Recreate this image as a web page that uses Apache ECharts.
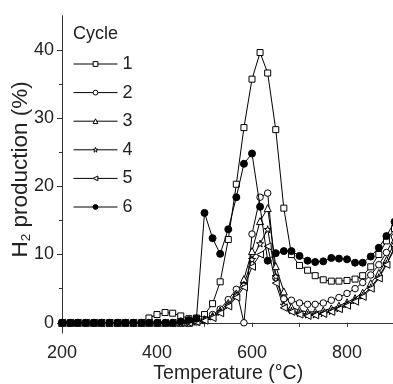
<!DOCTYPE html>
<html>
<head>
<meta charset="utf-8">
<script src="https://cdn.jsdelivr.net/npm/echarts@6/dist/echarts.min.js"></script>
<style>
  html, body { margin: 0; padding: 0; background: #fff; }
  #chart { width: 393px; height: 384px; }
</style>
</head>
<body>
<div id="chart"></div>
<script>
// temperature grid (°C)
var temps = [200, 217, 233, 250, 267, 283, 300, 317, 333, 350, 367, 383, 400, 417, 433,
  450, 467, 483, 500, 517, 533, 550, 567, 583, 600, 617, 633, 650, 667, 683, 700,
  717, 733, 750, 767, 783, 800, 817, 833, 850, 867, 883, 900];

// H2 production (%) per cycle
var cycle1 = [0, 0, 0, 0, 0, 0, 0, 0, 0, 0, 0, 0.7, 1.2, 1.5, 1.4, 1.0, 0.6, 0.7, 1.2, 2.8,
  6.0, 12.2, 20.3, 28.6, 35.7, 39.6, 36.6, 28.3, 16.8, 10.0, 8.4, 7.7, 6.9, 6.3, 6.1,
  6.1, 6.2, 6.4, 6.9, 8.2, 10.0, 12.0, 13.8];
var cycle2 = [0, 0, 0, 0, 0, 0, 0, 0, 0, 0, 0, 0, 0, 0, 0, 0, 0, 0.2, 0.5, 1.2, 2.0, 3.4,
  4.9, 0.0, 13.0, 18.4, 19.0, 6.6, 3.5, 3.3, 2.9, 2.7, 2.7, 2.9, 3.3, 3.7, 4.3, 5.0,
  5.9, 7.0, 8.5, 10.3, 12.6];
var cycle3 = [0, 0, 0, 0, 0, 0, 0, 0, 0, 0, 0, 0, 0, 0, 0, 0, 0, 0.2, 0.5, 1.0, 1.8, 2.9,
  4.3, 6.4, 10.5, 14.9, 16.8, 8.3, 4.6, 2.3, 1.8, 1.6, 1.6, 1.8, 2.1, 2.5, 3.0, 3.6,
  4.4, 5.8, 7.3, 9.2, 11.7];
var cycle4 = [0, 0, 0, 0, 0, 0, 0, 0, 0, 0, 0, 0, 0, 0, 0, 0, 0, 0.2, 0.4, 0.9, 1.6, 2.6,
  4.0, 5.6, 9.3, 11.6, 13.7, 6.8, 2.6, 1.8, 1.4, 1.2, 1.2, 1.4, 1.7, 2.1, 2.7, 3.3,
  4.0, 5.2, 6.7, 8.7, 11.0];
var cycle5 = [0, 0, 0, 0, 0, 0, 0, 0, 0, 0, 0, 0, 0, 0, 0, 0, 0, 0.1, 0.3, 0.7, 1.4, 2.4,
  3.7, 5.2, 8.2, 10.0, 11.2, 5.8, 2.2, 1.6, 1.2, 1.0, 1.1, 1.3, 1.6, 2.0, 2.5, 3.1,
  3.8, 5.0, 6.5, 8.5, 10.8];
var cycle6 = [0, 0, 0, 0, 0, 0, 0, 0, 0, 0, 0, 0, 0, 0, 0, 0.2, 0.4, 0.6, 16.1, 12.4,
  10.1, 13.7, 18.4, 23.3, 24.8, 17.0, 9.1, 10.2, 10.5, 10.5, 9.8, 9.1, 8.9, 9.0, 9.5,
  9.4, 9.3, 8.8, 8.8, 9.7, 11.0, 12.7, 14.8];

var cycleNames = ['1', '2', '3', '4', '5', '6'];
var yTicks = [0, 10, 20, 30, 40];
var yMinorTicks = [5, 15, 25, 35];

var FONT = 'Liberation Sans, Arial, sans-serif';
var STAR = 'path://M50,0 L61,35 L98,35 L68,57 L79,91 L50,70 L21,91 L32,57 L2,35 L39,35 Z';

function pairs(values) {
  return temps.map(function (t, i) { return [t, values[i]]; });
}

function makeSeries(name, values, symbol, opts) {
  opts = opts || {};
  return {
    name: name,
    type: 'line',
    data: pairs(values),
    symbol: symbol,
    symbolSize: opts.size || 6,
    symbolRotate: opts.rotate || 0,
    showAllSymbol: true,
    lineStyle: { color: '#000', width: 1 },
    itemStyle: {
      color: opts.filled ? '#000' : '#fff',
      borderColor: '#000',
      borderWidth: 1
    },
    emphasis: { disabled: true },
    z: opts.z || 2,
    animation: false
  };
}

function legendItem(name, filled) {
  return {
    name: name,
    itemStyle: { color: filled ? '#000' : '#fff', borderColor: '#000', borderWidth: 1 },
    lineStyle: { color: '#000', width: 1 }
  };
}

var myChart = echarts.init(document.getElementById('chart'));

var option = {
  backgroundColor: '#fff',
  animation: false,
  title: {
    text: 'Cycle',
    left: 68,
    top: 20,
    textStyle: { fontFamily: FONT, fontSize: 18, fontWeight: 'normal', color: '#222' }
  },
  legend: {
    data: cycleNames.map(function (n, i) { return legendItem(n, i === 5); }),
    orient: 'vertical',
    left: 68,
    top: 49,
    itemWidth: 44,
    itemHeight: 6,
    itemGap: 8.6,
    textStyle: { fontFamily: FONT, fontSize: 18, color: '#222', lineHeight: 20 }
  },
  grid: { left: 62, top: 15.7, width: 332.5, height: 317.3, containLabel: false, outerBoundsMode: 'none' },
  xAxis: {
    type: 'value',
    min: 200,
    max: 900,
    interval: 100,
    name: 'Temperature (°C)',
    nameLocation: 'middle',
    nameGap: 31,
    nameMoveOverlap: false,
    nameTextStyle: { fontFamily: FONT, fontSize: 19.5, color: '#222' },
    axisLine: { lineStyle: { color: '#333', width: 1 } },
    axisTick: { length: 4, lineStyle: { color: '#333' } },
    axisLabel: {
      margin: 11,
      fontFamily: FONT,
      fontSize: 18,
      color: '#222',
      formatter: function (v) { return v % 200 === 0 && v < 900 ? String(v) : ''; }
    },
    splitLine: { show: false }
  },
  yAxis: [{
    type: 'value',
    min: -1.5,
    max: 45,
    name: '{m|H}{s|2}{m| production (%)}',
    nameLocation: 'middle',
    nameGap: 29,
    nameMoveOverlap: false,
    nameTextStyle: {
      fontFamily: FONT,
      fontSize: 22.5,
      color: '#222',
      padding: [0, 0, 0, 10],
      rich: {
        m: { fontFamily: FONT, fontSize: 22.5, color: '#222', lineHeight: 24 },
        s: { fontFamily: FONT, fontSize: 13.5, color: '#222', lineHeight: 24, verticalAlign: 'bottom', padding: [10, 0, 0, 0] }
      }
    },
    axisLine: { show: true, lineStyle: { color: '#333', width: 1 } },
    axisTick: { show: true, length: 5, customValues: yTicks, lineStyle: { color: '#333' } },
    axisLabel: { margin: 8, fontFamily: FONT, fontSize: 18, color: '#222', customValues: yTicks },
    splitLine: { show: false }
  }, {
    type: 'value',
    position: 'left',
    min: -1.5,
    max: 45,
    axisLine: { show: false },
    axisTick: { show: true, length: 3, customValues: yMinorTicks, lineStyle: { color: '#333' } },
    axisLabel: { show: false, customValues: yMinorTicks },
    splitLine: { show: false }
  }],
  series: [
    makeSeries('1', cycle1, 'rect', { size: 6 }),
    makeSeries('2', cycle2, 'circle', { size: 6.5 }),
    makeSeries('3', cycle3, 'triangle', { size: 7 }),
    makeSeries('4', cycle4, STAR, { size: 7 }),
    makeSeries('5', cycle5, 'triangle', { size: 7, rotate: 90 }),
    makeSeries('6', cycle6, 'circle', { size: 7, filled: true, z: 3 })
  ]
};

myChart.setOption(option);
</script>
</body>
</html>
